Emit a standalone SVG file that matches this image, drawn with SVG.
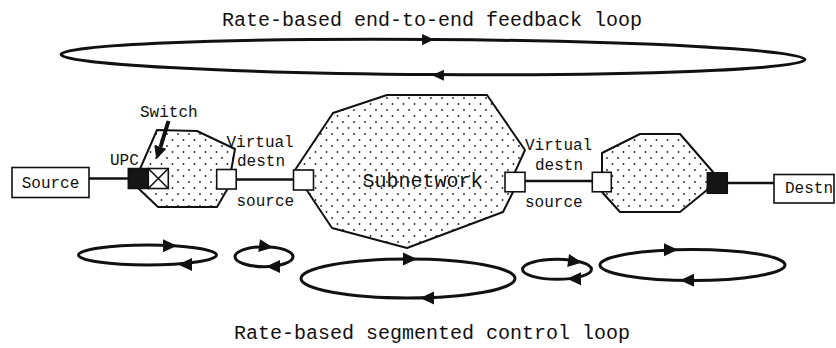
<svg xmlns="http://www.w3.org/2000/svg" xmlns:xlink="http://www.w3.org/1999/xlink" width="836" height="348" viewBox="0 0 836 348">
  <style>
    .title { font-family: "Liberation Mono", "Courier New", monospace; font-size: 20px; fill: #111; }
    .lbl { font-family: "Liberation Mono", "Courier New", monospace; font-size: 16px; fill: #111; }
    .loop { fill: none; stroke: #111; stroke-width: 3; }
    .cloud { fill: url(#dots); stroke: #111; stroke-width: 2; stroke-linejoin: round; }
    .port { fill: #fff; stroke: #111; stroke-width: 1.6; }
    .term { fill: #fff; stroke: #111; stroke-width: 1.6; }
    .link { stroke: #111; stroke-width: 2.6; fill: none; }
    .ah { fill: #111; }
  </style>
  <defs>
    <pattern id="dots" width="11" height="12" patternUnits="userSpaceOnUse">
      <rect width="11" height="12" fill="#fff"/>
      <circle cx="2" cy="2" r="0.9" fill="#222"/>
      <circle cx="7.5" cy="8" r="0.9" fill="#222"/>
    </pattern>
    <!-- filled arrowhead, tip at origin, pointing right -->
    <path id="ah" d="M0,0 L-14,-6.5 L-14,6.5 Z"/>
  </defs>

  <!-- loop captions -->
  <text class="title" x="432" y="26" text-anchor="middle">Rate-based end-to-end feedback loop</text>
  <text class="title" x="432" y="339" text-anchor="middle">Rate-based segmented control loop</text>

  <g id="connectors">
    <line class="link" x1="89" y1="178.5" x2="128" y2="178.5"/>
    <line class="link" x1="236" y1="179.5" x2="294" y2="179.5"/>
    <line class="link" x1="525" y1="181" x2="593" y2="181"/>
    <line class="link" x1="727" y1="183" x2="774" y2="183"/>
  </g>

  <!-- end-to-end loop -->
  <g id="e2e-loop">
    <ellipse class="loop" cx="433" cy="57" rx="372" ry="17.5" transform="rotate(0.4 433 57)" stroke-width="2.6"/>
    <use xlink:href="#ah" class="ah" transform="translate(434 39.6) scale(0.85)"/>
    <use xlink:href="#ah" class="ah" transform="translate(432 75.2) rotate(180) scale(0.85)"/>
  </g>

  <!-- segmented loops -->
  <g id="seg-loop-1">
    <ellipse class="loop" cx="147.5" cy="255" rx="69" ry="10"/>
    <use xlink:href="#ah" class="ah" transform="translate(177 245.8)"/>
    <use xlink:href="#ah" class="ah" transform="translate(178 264.4) rotate(180)"/>
  </g>
  <g id="seg-loop-2">
    <ellipse class="loop" cx="264" cy="256.7" rx="29" ry="10"/>
    <use xlink:href="#ah" class="ah" transform="translate(273 247.6) rotate(8)"/>
    <use xlink:href="#ah" class="ah" transform="translate(266 266.5) rotate(180)"/>
  </g>
  <g id="seg-loop-3">
    <ellipse class="loop" cx="408" cy="278.5" rx="107" ry="19.5"/>
    <use xlink:href="#ah" class="ah" transform="translate(417 259)"/>
    <use xlink:href="#ah" class="ah" transform="translate(420 298) rotate(180)"/>
  </g>
  <g id="seg-loop-4">
    <ellipse class="loop" cx="557" cy="269.3" rx="34.5" ry="10"/>
    <use xlink:href="#ah" class="ah" transform="translate(582 262.4) rotate(8)"/>
    <use xlink:href="#ah" class="ah" transform="translate(567 278.8) rotate(180)"/>
  </g>
  <g id="seg-loop-5">
    <ellipse class="loop" cx="692.5" cy="265" rx="92.5" ry="15.5"/>
    <use xlink:href="#ah" class="ah" transform="translate(678 249.7)"/>
    <use xlink:href="#ah" class="ah" transform="translate(680 280.3) rotate(180)"/>
  </g>

  <!-- end systems -->
  <g id="source">
    <rect class="term" x="12" y="167.5" width="77" height="30"/>
    <text class="lbl" x="50.5" y="187.5" text-anchor="middle">Source</text>
  </g>
  <g id="destn">
    <rect class="term" x="774" y="174.5" width="60" height="28.5"/>
    <text class="lbl" x="809" y="193" text-anchor="middle">Destn</text>
  </g>

  <!-- first switch with UPC -->
  <g id="switch-node">
    <polygon class="cloud" points="157,130 197,131 235,149 228,188 217,207 158,207 138,188 140,169"/>
    <rect x="128.3" y="168.5" width="20" height="20" fill="#151515" stroke="#111" stroke-width="1.5"/>
    <rect class="port" x="148.3" y="168.5" width="20" height="20"/>
    <path d="M148.3,168.5 L168.3,188.5 M168.3,168.5 L148.3,188.5" stroke="#111" stroke-width="1.6"/>
    <rect class="port" x="216.7" y="169.5" width="19.5" height="19.5"/>
    <text class="lbl" x="110" y="165">UPC</text>
    <text class="lbl" x="140" y="117">Switch</text>
    <line x1="168.5" y1="121" x2="160.5" y2="147" stroke="#111" stroke-width="4"/>
    <path d="M156.7,158.5 L165.6,149 L154.9,145.8 Z" fill="#111" stroke="#111" stroke-width="1"/>
  </g>

  <!-- central subnetwork -->
  <g id="subnetwork">
    <polygon class="cloud" points="387,95 487,95 525,150 515,172 513,192 503,212 407,248 332,228 308,192 295,170 333,113"/>
    <rect class="port" x="293.5" y="170" width="20" height="20"/>
    <rect class="port" x="505" y="172.3" width="20" height="19.5"/>
    <text class="title" x="422.5" y="187" text-anchor="middle">Subnetwork</text>
  </g>

  <!-- last switch -->
  <g id="egress-node">
    <polygon class="cloud" points="640,134 680,134 713,172 707,190 680,212 620,212 602,192 602,153"/>
    <rect class="port" x="592.3" y="172.3" width="19" height="19.5"/>
    <rect x="707.3" y="172.8" width="20" height="20.5" fill="#151515" stroke="#111" stroke-width="1.5"/>
  </g>

  <!-- virtual destination / source labels -->
  <g id="vd-labels">
    <text class="lbl" x="226.5" y="147">Virtual</text>
    <text class="lbl" x="237" y="166">destn</text>
    <text class="lbl" x="236.5" y="205.5">source</text>
    <text class="lbl" x="525" y="149.5">Virtual</text>
    <text class="lbl" x="535" y="169.5">destn</text>
    <text class="lbl" x="525" y="207">source</text>
  </g>
</svg>
